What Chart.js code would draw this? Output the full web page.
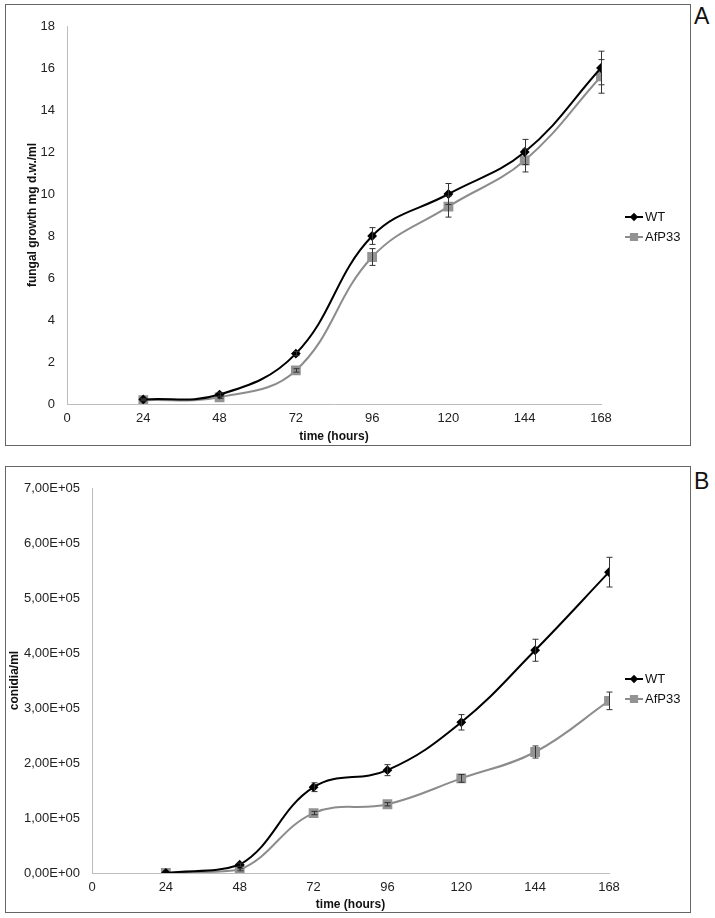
<!DOCTYPE html>
<html lang="en">
<head>
<meta charset="UTF-8">
<script src="https://cdn.jsdelivr.net/npm/chart.js"></script>
<title>Fungal growth and conidia</title>
<style>
  body { margin: 0; background: #fff; font-family: 'Liberation Sans', Arial, sans-serif; }
  .panel { position: absolute; left: 5px; width: 684px; border: 1px solid #666; }
  .tag { position: absolute; left: 694px; font-size: 23px; color: #111; line-height: 1; }
</style>
</head>
<body>

<div class="panel" style="top:4px;height:440px"><canvas id="chartA"></canvas></div>
<div class="tag" style="top:5px">A</div>
<div class="panel" style="top:466px;height:445px"><canvas id="chartB"></canvas></div>
<div class="tag" style="top:470px">B</div>

<script>
// time points (hours)
const hours = [24, 48, 72, 96, 120, 144, 168];
const xTicks = [0, 24, 48, 72, 96, 120, 144, 168];

// A - fungal growth (mg d.w./ml)
const growthWT = [0.22, 0.45, 2.4, 8.0, 10.0, 12.0, 16.0];
const growthWTErr = [0.05, 0.08, 0.1, 0.4, 0.5, 0.6, 0.8];
const growthAfP33 = [0.18, 0.32, 1.6, 7.0, 9.4, 11.6, 15.6];
const growthAfP33Err = [0.03, 0.05, 0.08, 0.4, 0.5, 0.55, 0.8];
const growthTicks = [0, 2, 4, 6, 8, 10, 12, 14, 16, 18];

// B - conidia/ml
const conidiaWT = [0, 15000, 156000, 187000, 274000, 405000, 547000];
const conidiaWTErr = [0, 3000, 8000, 10000, 14000, 20000, 27000];
const conidiaAfP33 = [0, 6000, 109000, 125000, 172000, 220000, 313000];
const conidiaAfP33Err = [0, 2000, 3000, 3000, 7000, 11000, 16000];
const conidiaTicks = [0, 100000, 200000, 300000, 400000, 500000, 600000, 700000];

const FONT = "'Liberation Sans', Arial, sans-serif";
Chart.defaults.font.family = FONT;
Chart.defaults.color = '#222';

function pts(vals) {
  return vals.map((v, i) => ({ x: hours[i], y: v }));
}

// vertical error bars with caps
const errorBars = {
  id: 'errorBars',
  afterDatasetsDraw(chart) {
    const ctx = chart.ctx, xs = chart.scales.x, ys = chart.scales.y;
    chart.data.datasets.forEach(ds => {
      if (!ds.errors) return;
      ctx.save();
      ctx.strokeStyle = '#333';
      ctx.lineWidth = 1;
      ds.data.forEach((p, i) => {
        const e = ds.errors[i];
        if (!e) return;
        const px = Math.round(xs.getPixelForValue(p.x)) + 0.5;
        const top = ys.getPixelForValue(p.y + e);
        const bot = ys.getPixelForValue(p.y - e);
        ctx.beginPath();
        ctx.moveTo(px, top); ctx.lineTo(px, bot);
        ctx.moveTo(px - 3, top); ctx.lineTo(px + 3, top);
        ctx.moveTo(px - 3, bot); ctx.lineTo(px + 3, bot);
        ctx.stroke();
      });
      ctx.restore();
    });
  }
};

// excel-like legend: short line with marker, then label
const lineLegend = {
  id: 'lineLegend',
  afterDraw(chart, args, opts) {
    const ctx = chart.ctx;
    chart.data.datasets.forEach((ds, i) => {
      const y = opts.y + i * opts.gap;
      ctx.save();
      ctx.strokeStyle = ds.borderColor;
      ctx.lineWidth = 2;
      ctx.beginPath();
      ctx.moveTo(opts.x, y);
      ctx.lineTo(opts.x + 18, y);
      ctx.stroke();
      ctx.fillStyle = ds.pointBackgroundColor;
      ctx.strokeStyle = ds.pointBorderColor;
      Chart.helpers.drawPoint(ctx, {
        pointStyle: ds.pointStyle, radius: ds.pointRadius * 0.8, borderWidth: 1, rotation: 0
      }, opts.x + 9, y);
      ctx.fillStyle = '#111';
      ctx.font = '13px ' + FONT;
      ctx.textBaseline = 'middle';
      ctx.fillText(ds.label, opts.x + 20, y);
      ctx.restore();
    });
  }
};

function makeChart(id, cfg) {
  return new Chart(document.getElementById(id), {
    type: 'line',
    data: {
      datasets: [{
        label: 'WT',
        data: pts(cfg.wt),
        errors: cfg.wtErr,
        borderColor: '#000',
        borderWidth: 2,
        pointStyle: 'rectRot',
        pointRadius: 3.5,
        pointBackgroundColor: '#000',
        pointBorderColor: '#000',
        tension: 0.4
      }, {
        label: 'AfP33',
        data: pts(cfg.mut),
        errors: cfg.mutErr,
        borderColor: '#8c8c8c',
        borderWidth: 2,
        pointStyle: 'rect',
        pointRadius: 5.5,
        pointBackgroundColor: '#939393',
        pointBorderColor: '#939393',
        tension: 0.4
      }]
    },
    options: {
      responsive: true,
      maintainAspectRatio: false,
      animation: false,
      layout: { padding: { top: 21, right: cfg.padRight, left: 0, bottom: 0 } },
      plugins: {
        legend: { display: false },
        tooltip: { enabled: false },
        lineLegend: { x: 619, y: 212, gap: 20 }
      },
      scales: {
        x: {
          type: 'linear',
          min: 0, max: 168,
          afterBuildTicks: s => { s.ticks = xTicks.map(v => ({ value: v })); },
          afterFit: s => { s.height = cfg.xHeight; },
          grid: { display: false, drawTicks: false },
          border: { color: '#bdbdbd', width: 1 },
          ticks: { font: { size: 13 }, padding: 7, maxRotation: 0 },
          title: {
            display: true, text: 'time (hours)', color: '#111',
            font: { size: 12, weight: 'bold' }, padding: { top: 0, bottom: cfg.xTitlePad }
          }
        },
        y: {
          min: 0, max: cfg.yTicks[cfg.yTicks.length - 1],
          afterBuildTicks: s => { s.ticks = cfg.yTicks.map(v => ({ value: v })); },
          afterFit: s => { s.width = cfg.yWidth; },
          grid: { display: false, drawTicks: false },
          border: { color: '#bdbdbd', width: 1 },
          ticks: { font: { size: 13 }, padding: 12, callback: cfg.fmt },
          title: {
            display: true, text: cfg.yTitle, color: '#111',
            font: { size: 12, weight: 'bold' }, padding: { top: cfg.yTitlePad, bottom: 0 }
          }
        }
      }
    },
    plugins: [errorBars, lineLegend]
  });
}

makeChart('chartA', {
  wt: growthWT, wtErr: growthWTErr, mut: growthAfP33, mutErr: growthAfP33Err,
  yTicks: growthTicks, yTitle: 'fungal growth mg d.w./ml',
  fmt: v => String(v),
  padRight: 89, yWidth: 61, xHeight: 41, yTitlePad: 19, xTitlePad: 1
});

makeChart('chartB', {
  wt: conidiaWT, wtErr: conidiaWTErr, mut: conidiaAfP33, mutErr: conidiaAfP33Err,
  yTicks: conidiaTicks, yTitle: 'conidia/ml',
  fmt: v => {
    const [m, e] = Number(v).toExponential(2).split('e');
    const n = Math.abs(parseInt(e, 10));
    return m.replace('.', ',') + 'E' + (parseInt(e, 10) < 0 ? '-' : '+') + (n < 10 ? '0' + n : n);
  },
  padRight: 81, yWidth: 86, xHeight: 39, yTitlePad: 1, xTitlePad: 0
});
</script>
</body>
</html>
